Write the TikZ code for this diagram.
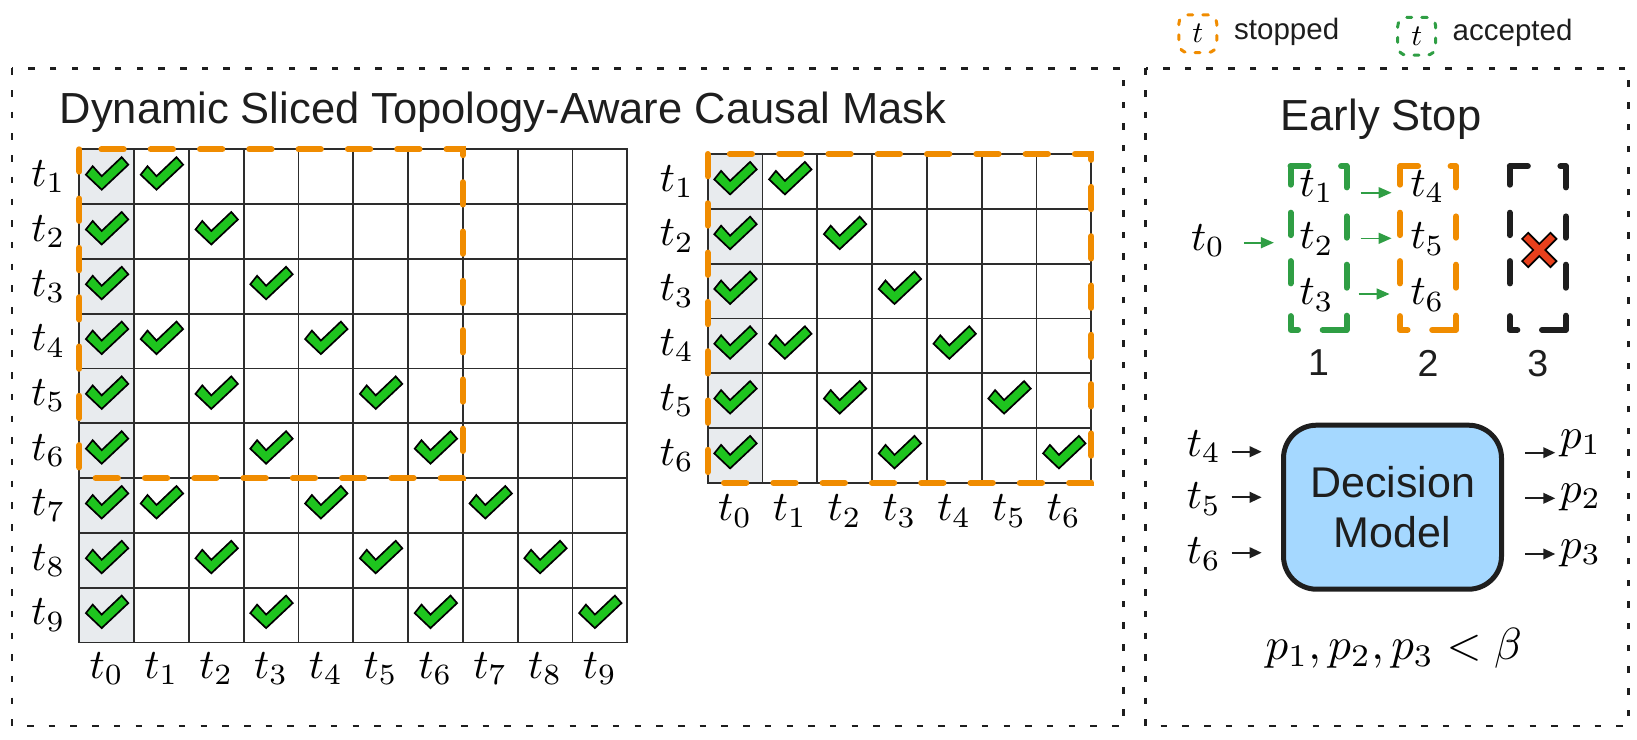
\RequirePackage{fix-cm}
\documentclass[tikz,border=0pt]{standalone}
\usepackage{fontspec}
\setmainfont{Liberation Sans}
\usetikzlibrary{arrows.meta}
\definecolor{orng}{RGB}{240,140,0}
\definecolor{grn}{RGB}{47,158,68}
\definecolor{chkg}{RGB}{30,196,30}
\definecolor{redx}{RGB}{232,64,28}
\definecolor{dmblue}{RGB}{165,216,255}
\definecolor{ink}{RGB}{30,30,30}
\definecolor{colg}{RGB}{232,235,238}
\definecolor{gridc}{RGB}{45,45,45}
\tikzset{
  outerbox/.style={draw=ink, line width=2.7pt, dash pattern=on 6.5pt off 15.2pt},
  gridl/.style={draw=gridc, line width=1.8pt, line cap=rect},
  oframe/.style={draw=orng, line width=6pt, line cap=round, dash pattern=on 22.3pt off 27pt},
  grpanchor/.style={minimum width=55.6pt, minimum height=163.4pt, inner sep=0pt},
  grpline/.style={line width=6pt, line cap=round, line join=round,
     dash pattern=on 18pt off 32.6pt on 26.7pt off 29pt on 21.3pt off 27pt on 23pt off 28pt on 38pt off 24.7pt
                  on 21.3pt off 32.7pt on 22.3pt off 26pt on 22.4pt off 28pt on 17pt off 10pt},
  legbox/.style={line width=3pt, line cap=round, dash pattern=on 5pt off 10pt, rounded corners=9pt, minimum width=38pt, minimum height=37.7pt, inner sep=0pt},
  mlab/.style={inner sep=0pt, font=\fontsize{10}{12}\selectfont, scale=4.2, text=black},
  plab/.style={inner sep=0pt, font=\fontsize{10}{12}\selectfont, scale=4.3, text=black},
  ttl/.style={inner sep=0pt, font=\fontsize{43.5}{48}\selectfont, text=ink},
  legtxt/.style={inner sep=0pt, font=\fontsize{29.5}{34}\selectfont, text=ink},
  digit/.style={inner sep=0pt, font=\fontsize{37.5}{42}\selectfont, text=ink},
  garrow/.style={draw=grn, line width=1.6pt, -{Triangle[length=13pt,width=11pt]}},
  barrow/.style={draw=ink, line width=2.2pt, -{Triangle[length=12pt,width=10.5pt]}},
  chk/.pic={\filldraw[fill=chkg, draw=black, line width=1.7pt, line join=miter]
     (-20.8,-2) -- (-14,-10.5) -- (-5,-0.5) -- (15,-19.5) -- (21.6,-12) -- (-5,13) -- cycle;},
  xmark/.pic={\filldraw[fill=redx, draw=black, line width=1.7pt, line join=miter]
     (6.1,0) -- (17.2,11.1) -- (11.1,17.2) -- (0,6.1) -- (-11.1,17.2) -- (-17.2,11.1) -- (-6.1,0)
     -- (-17.2,-11.1) -- (-11.1,-17.2) -- (0,-6.1) -- (11.1,-17.2) -- (17.2,-11.1) -- cycle;}
}
\begin{document}
\begin{tikzpicture}[x=1pt,y=-1pt]
\useasboundingbox (0,0) rectangle (1637,739);
% panels
\draw[outerbox] (12,68.3) rectangle (1123.3,726);
\draw[outerbox] (1145.7,68.3) rectangle (1628.3,726);
% legend
\node[legbox, draw=orng] (lgo) at (1197.8,33.7) {};
\node[inner sep=0pt, font=\fontsize{10}{12}\selectfont, scale=3.0] (lgot) at (lgo) {$t$};
\node[legtxt, anchor=base west] (lgos) at (1234,39.5) {stopped};
\node[legbox, draw=grn] (lgg) at (1416.7,36.3) {};
\node[inner sep=0pt, font=\fontsize{10}{12}\selectfont, scale=3.0] (lggt) at (lgg) {$t$};
\node[legtxt, anchor=base west] (lggs) at (1452.5,40) {accepted};
% title
\node[ttl, anchor=base west] (title) at (59.5,123.3) {Dynamic Sliced Topology-Aware Causal Mask};
\def\C{54.8}
% ---------- left grid ----------
\def\LX{79.3}\def\LY{149.3}
\fill[colg] (\LX,\LY) rectangle ({\LX+\C},{\LY+9*\C});
\foreach \k in {0,...,10} \draw[gridl] ({\LX+\k*\C},\LY) -- ({\LX+\k*\C},{\LY+9*\C});
\foreach \k in {0,...,9} \draw[gridl] (\LX,{\LY+\k*\C}) -- ({\LX+10*\C},{\LY+\k*\C});
\foreach \i in {1,...,9}{
  \foreach \j in {0,...,9}{
    \pgfmathtruncatemacro\chkok{(\j==0)||((\j<=\i)&&(mod(\i-\j,3)==0))}
    \ifnum\chkok=1 \pic at ({\LX+(\j+0.5)*\C},{\LY+(\i-0.5)*\C}) {chk};\fi
  }
}
\foreach \i in {1,...,9} \node[mlab, anchor=east] (lr\i) at ({\LX-13},{\LY+(\i-0.5)*\C}) {$t_{\i}$};
\foreach \j in {0,...,9} \node[mlab, anchor=north] (lc\j) at ({\LX+(\j+0.5)*\C},{\LY+9*\C+9}) {$t_{\j}$};
\draw[oframe] (\LX,\LY) rectangle ({\LX+7*\C},{\LY+6*\C});
% ---------- right grid ----------
\def\RX{707.7}\def\RY{154}
\fill[colg] (\RX,\RY) rectangle ({\RX+\C},{\RY+6*\C});
\foreach \k in {0,...,7} \draw[gridl] ({\RX+\k*\C},\RY) -- ({\RX+\k*\C},{\RY+6*\C});
\foreach \k in {0,...,6} \draw[gridl] (\RX,{\RY+\k*\C}) -- ({\RX+7*\C},{\RY+\k*\C});
\foreach \i in {1,...,6}{
  \foreach \j in {0,...,6}{
    \pgfmathtruncatemacro\chkok{(\j==0)||((\j<=\i)&&(mod(\i-\j,3)==0))}
    \ifnum\chkok=1 \pic at ({\RX+(\j+0.5)*\C},{\RY+(\i-0.5)*\C}) {chk};\fi
  }
}
\foreach \i in {1,...,6} \node[mlab, anchor=east] (rr\i) at ({\RX-13},{\RY+(\i-0.5)*\C}) {$t_{\i}$};
\foreach \j in {0,...,6} \node[mlab, anchor=north] (rc\j) at ({\RX+(\j+0.5)*\C},{\RY+6*\C+11.5}) {$t_{\j}$};
\draw[oframe] (\RX,\RY) rectangle ({\RX+7*\C},{\RY+6*\C});
% ---------- early stop ----------
\node[ttl, anchor=base] (es) at (1381,130) {Early Stop};
\node[grpanchor] (g1) at (1318.5,248) {};
\node[grpanchor] (g2) at (1428,248) {};
\node[grpanchor] (g3) at (1537.8,248) {};
\draw[grpline, draw=grn] (g1.north west) -- (g1.north east) -- (g1.south east) -- (g1.south west) -- cycle;
\draw[grpline, draw=orng] (g2.north west) -- (g2.north east) -- (g2.south east) -- (g2.south west) -- cycle;
\draw[grpline, draw=ink] (g3.north west) -- (g3.north east) -- (g3.south east) -- (g3.south west) -- cycle;
\node[mlab] (e0) at (1208,240.5) {$t_0$};
\node[mlab] (e1) at (1316.7,186.7) {$t_1$};
\node[mlab] (e2) at (1316.7,239) {$t_2$};
\node[mlab] (e3) at (1316.7,295) {$t_3$};
\node[mlab] (e4) at (1427.5,186.7) {$t_4$};
\node[mlab] (e5) at (1427.5,239) {$t_5$};
\node[mlab] (e6) at (1427.5,295) {$t_6$};
\draw[garrow] ([xshift=18pt,yshift=-2.2pt]e0.east) -- ++(30,0);
\draw[garrow] ([xshift=26pt,yshift=-6pt]e1.east) -- ++(31,0);
\draw[garrow] ([xshift=26pt,yshift=0.7pt]e2.east) -- ++(31,0);
\draw[garrow] ([xshift=24pt,yshift=1pt]e3.east) -- ++(31,0);
\pic at (1539.3,250) {xmark};
\node[digit, anchor=north] (n1) at ([yshift=-20pt]g1.south) {1};
\node[digit, anchor=north] (n2) at ([yshift=-20pt]g2.south) {2};
\node[digit, anchor=north] (n3) at ([yshift=-20pt]g3.south) {3};
% ---------- decision model ----------
\node[draw=ink, line width=5pt, fill=dmblue, rounded corners=33pt, minimum width=218pt, minimum height=164pt,
      align=center, font=\fontsize{43}{50.7}\selectfont, text=ink, inner sep=0pt] (dm) at (1392.5,507.2) {Decision\\Model};
\node[mlab, anchor=east] (i4) at (1221.7,446.7) {$t_4$};
\node[mlab, anchor=east] (i5) at (1221.7,499) {$t_5$};
\node[mlab, anchor=east] (i6) at (1221.7,554) {$t_6$};
\draw[barrow] ([xshift=10pt,yshift=-5pt]i4.east) -- ++(30,0);
\draw[barrow] ([xshift=10pt,yshift=1.7pt]i5.east) -- ++(30,0);
\draw[barrow] ([xshift=10pt,yshift=1.3pt]i6.east) -- ++(30,0);
\node[plab, anchor=west] (p1) at (1559.3,443.3) {$p_1$};
\node[plab, anchor=west] (p2) at (1559.3,497) {$p_2$};
\node[plab, anchor=west] (p3) at (1559.3,553) {$p_3$};
\draw[barrow] ([xshift=-34pt,yshift=-9.4pt]p1.west) -- ([xshift=-4pt,yshift=-9.4pt]p1.west);
\draw[barrow] ([xshift=-34pt,yshift=-1.3pt]p2.west) -- ([xshift=-4pt,yshift=-1.3pt]p2.west);
\draw[barrow] ([xshift=-34pt,yshift=-1pt]p3.west) -- ([xshift=-4pt,yshift=-1pt]p3.west);
\node[inner sep=0pt, font=\fontsize{10}{12}\selectfont, scale=4.5] (cond) at (1393.8,648.3) {$p_1, p_2, p_3 < \beta$};
\end{tikzpicture}
\end{document}
